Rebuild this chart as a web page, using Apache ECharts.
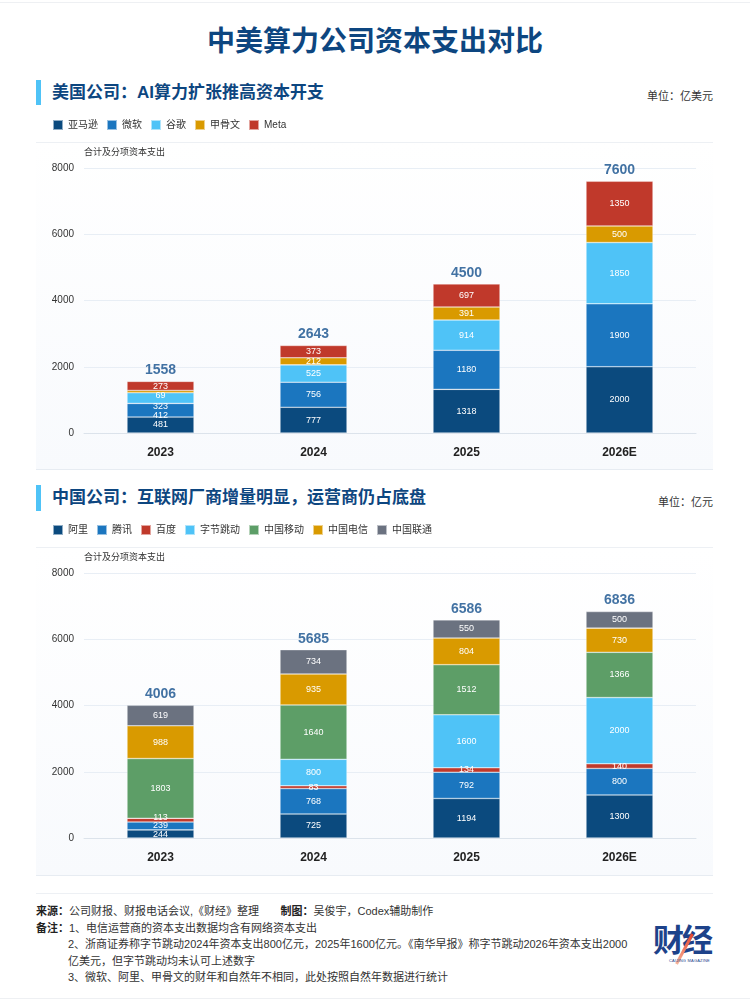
<!DOCTYPE html>
<html>
<head>
<meta charset="utf-8">
<title>中美算力公司资本支出对比</title>
<script src="https://cdn.jsdelivr.net/npm/echarts@6/dist/echarts.min.js"></script>
<style>
body { margin: 0; background: #fff; font-family: "Liberation Sans", "Noto Sans CJK SC", sans-serif; }
#page { position: relative; width: 750px; height: 1001px; overflow: hidden; background: #fff; }
.edge { position: absolute; left: 0; width: 750px; height: 1px; background: #eef0f3; }
.title { position: absolute; left: 0; top: 22px; width: 750px; text-align: center; font-size: 28px; line-height: 40px; font-weight: bold; color: #0d4680; }
.accent { position: absolute; left: 36px; width: 5px; background: #4fc3f7; }
.heading { position: absolute; left: 52px; font-size: 17px; line-height: 24px; font-weight: bold; color: #0d4680; }
.unit { position: absolute; right: 37px; font-size: 11px; line-height: 16px; color: #333; }
.panel { position: absolute; left: 36px; width: 677px; border-top: 1px solid #edf0f4; border-bottom: 1px solid #e7ecf2; background: linear-gradient(#ffffff, #f8fafd); }
.chart { position: absolute; left: 0; width: 750px; }
.rule { position: absolute; left: 36px; width: 677px; height: 1px; background: #edf0f4; }
.foot { position: absolute; left: 36px; top: 903px; font-size: 11px; line-height: 16.5px; color: #333; }
.foot b { font-weight: bold; color: #222; }
.foot .ind { padding-left: 32px; }
.logo { position: absolute; left: 653px; top: 918px; width: 70px; height: 60px; }
.logo .cj { position: absolute; left: 0; top: 0; font-size: 31px; line-height: 40px; font-weight: bold; color: #1d428a; letter-spacing: -2px; font-family: "Noto Sans CJK SC", sans-serif; }
.logo .slash { position: absolute; left: 30px; top: 14px; width: 3px; height: 34px; background: linear-gradient(#e8452c, #f6b49a); transform: rotate(28deg); }
.logo .en { position: absolute; left: 16px; top: 40px; font-size: 4px; line-height: 5px; color: #1d428a; letter-spacing: 0.2px; white-space: nowrap; }
</style>
</head>
<body>
<div id="page">
	<div class="edge" style="top:2px"></div>
	<div class="title">中美算力公司资本支出对比</div>

	<div class="accent" style="top:80px;height:25px"></div>
	<div class="heading" style="top:81px">美国公司：AI算力扩张推高资本开支</div>
	<div class="unit" style="top:88px">单位：亿美元</div>
	<div class="panel" style="top:142px;height:326px"></div>
	<div id="chart_us" class="chart" style="top:108px;height:367px"></div>

	<div class="accent" style="top:485px;height:26px"></div>
	<div class="heading" style="top:486px">中国公司：互联网厂商增量明显，运营商仍占底盘</div>
	<div class="unit" style="top:494px">单位：亿元</div>
	<div class="panel" style="top:547px;height:327px"></div>
	<div id="chart_cn" class="chart" style="top:513px;height:367px"></div>

	<div class="rule" style="top:893px"></div>
	<div class="foot">
		<div><b>来源：</b>公司财报、财报电话会议,《财经》整理&nbsp;&nbsp;&nbsp;&nbsp;&nbsp;&nbsp;&nbsp;<b>制图：</b>吴俊宇，Codex辅助制作</div>
		<div><b>备注：</b>1、电信运营商的资本支出数据均含有网络资本支出</div>
		<div class="ind">2、浙商证券称字节跳动2024年资本支出800亿元，2025年1600亿元。《南华早报》称字节跳动2026年资本支出2000</div>
		<div class="ind">亿美元，但字节跳动均未认可上述数字</div>
		<div class="ind">3、微软、阿里、甲骨文的财年和自然年不相同，此处按照自然年数据进行统计</div>
	</div>
	<div class="logo">
		<div class="cj">财经</div>
		<div class="slash"></div>
		<div class="en">CAIJING MAGAZINE</div>
	</div>
	<div class="edge" style="top:998px"></div>
</div>

<script>
// categories
var years = ['2023', '2024', '2025', '2026E'];

// 美国公司, 亿美元
var usNames = ['亚马逊', '微软', '谷歌', '甲骨文', 'Meta'];
var amazon = [481, 777, 1318, 2000];
var microsoft = [412, 756, 1180, 1900];
var google = [323, 525, 914, 1850];
var oracle = [69, 212, 391, 500];
var meta = [273, 373, 697, 1350];

// 中国公司, 亿元 (字节跳动 2023 无数据)
var cnNames = ['阿里', '腾讯', '百度', '字节跳动', '中国移动', '中国电信', '中国联通'];
var alibaba = [244, 725, 1194, 1300];
var tencent = [239, 768, 792, 800];
var baidu = [113, 83, 134, 140];
var bytedance = [0, 800, 1600, 2000];
var chinaMobile = [1803, 1640, 1512, 1366];
var chinaTelecom = [988, 935, 804, 730];
var chinaUnicom = [619, 734, 550, 500];

// value axis ticks
var yTicks = [0, 2000, 4000, 6000, 8000];

function initChart() {
	var font = 'Liberation Sans, Noto Sans CJK SC, sans-serif';
	var usColors = ['#0b4a7e', '#1b76bf', '#4fc3f7', '#d99a00', '#c0392b'];
	var cnColors = ['#0b4a7e', '#1b76bf', '#c0392b', '#4fc3f7', '#5d9e67', '#d99a00', '#6b7280'];

	// small label nudges where thin segments crowd the 2023 bars
	var usNudge = { 0 : [-1, 5, 8, 4, 1] };
	var cnNudge = { 0 : [1, 0, -3, 0, 0, 0, 0] };

	function buildOption(names, values, colors, nudge) {
		var totals = years.map(function(y, i) {
			return values.reduce(function(s, arr) {
				return s + arr[i];
			}, 0);
		});
		var series = names.map(function(name, k) {
			return {
				name : name,
				type : 'bar',
				stack : 'capex',
				barWidth : 67,
				itemStyle : {
					color : colors[k],
					borderColor : 'rgba(255,255,255,0.55)',
					borderWidth : 0.6
				},
				label : {
					show : true,
					position : 'inside',
					color : '#fff',
					fontSize : 9,
					formatter : function(p) {
						return p.value ? String(p.value) : '';
					}
				},
				labelLayout : function(p) {
					var d = nudge[p.dataIndex] ? nudge[p.dataIndex][k] : 0;
					return d ? { dy : d } : {};
				},
				data : values[k]
			};
		});
		series.push({
			name : 'total',
			type : 'scatter',
			symbolSize : 0,
			silent : true,
			label : {
				show : true,
				position : 'top',
				distance : 4,
				color : '#134f8c',
				fontSize : 14,
				fontWeight : 'bold',
				formatter : '{c}'
			},
			data : totals
		});

		return {
			animation : false,
			textStyle : { fontFamily : font },
			legend : {
				data : names,
				left : 47,
				top : 6,
				icon : 'rect',
				itemWidth : 10,
				itemHeight : 10,
				itemGap : 8,
				textStyle : { fontSize : 10, color : '#333' }
			},
			grid : {
				left : 84,
				right : 54,
				top : 60,
				bottom : 42,
				containLabel : false,
				outerBoundsMode : 'none'
			},
			xAxis : [ {
				type : 'category',
				data : years,
				axisLine : { show : true, lineStyle : { color : '#dce3eb', width : 1 } },
				axisTick : { show : false },
				axisLabel : { margin : 14, fontSize : 12, fontWeight : 'bold', color : '#222' }
			} ],
			yAxis : [ {
				type : 'value',
				min : yTicks[0],
				max : yTicks[yTicks.length - 1],
				interval : yTicks[1] - yTicks[0],
				name : '合计及分项资本支出',
				nameLocation : 'end',
				nameGap : 11,
				nameTextStyle : { align : 'left', fontSize : 9, color : '#333' },
				axisLine : { show : false },
				axisTick : { show : false },
				axisLabel : {
					margin : 10,
					fontSize : 10,
					color : '#333',
					formatter : function(v) {
						return String(v);
					}
				},
				splitLine : { lineStyle : { color : '#e8eef5', width : 1 } }
			} ],
			series : series
		};
	}

	var usChart = echarts.init(document.getElementById('chart_us'));
	usChart.setOption(buildOption(usNames, [amazon, microsoft, google, oracle, meta], usColors, usNudge));

	var cnChart = echarts.init(document.getElementById('chart_cn'));
	cnChart.setOption(buildOption(cnNames, [alibaba, tencent, baidu, bytedance, chinaMobile, chinaTelecom, chinaUnicom], cnColors, cnNudge));

	window.addEventListener('resize', function() {
		usChart.resize();
		cnChart.resize();
	});
}

initChart();
</script>
</body>
</html>
